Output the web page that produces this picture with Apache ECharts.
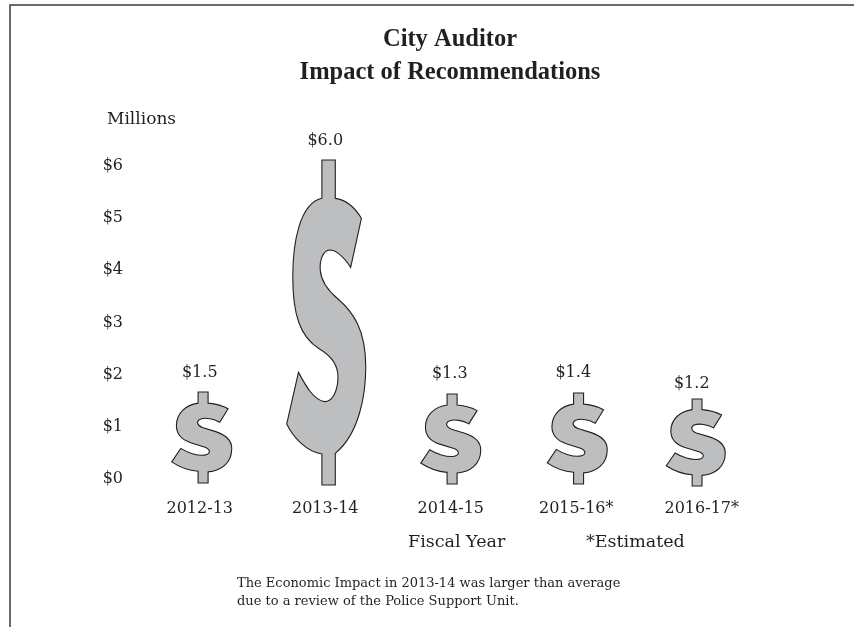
<!DOCTYPE html>
<html>
<head>
<meta charset="utf-8">
<style>html,body{margin:0;padding:0;background:#fff}#c{width:854px;height:627px}</style>
<script src="https://cdn.jsdelivr.net/npm/echarts@6/dist/echarts.min.js"></script>
</head>
<body>
<div id="c"></div>
<script>
const categories = ['2012-13', '2013-14', '2014-15', '2015-16*', '2016-17*'];
const impactMillions = [1.5, 6.0, 1.3, 1.4, 1.2];
const yTickLabels = ['$0', '$1', '$2', '$3', '$4', '$5', '$6'];

const INK = '#231f20';
const SERIF = '"DejaVu Serif", serif';
const TITLE_FONT = '"Liberation Serif", serif';

const TALL = 'M157 30L197 30L197 145C235 150 260 180 275 205L243 352C225 325 205 300 180 300C160 302 150 330 152 360C155 400 185 430 205 447C250 485 288 540 288 650C288 730 270 850 197 910L197 1005L157 1005L157 912C110 905 70 860 52 822L87 667C105 700 130 750 165 755C190 755 205 720 205 680C205 640 180 615 150 597C90 560 70 490 70 380C70 280 90 160 157 145Z';
const WIDE = 'M142 132L172 132L172 165C195 167 215 172 232 182L207 222C190 212 165 207 148 213C135 220 140 232 155 238L195 250C225 260 243 275 243 300C243 345 210 367 172 370L172 403L142 403L142 368C115 366 85 355 63 340L90 300C110 313 140 322 160 320C178 318 182 305 165 297L120 283C95 275 77 258 77 232C77 195 105 170 142 165Z';

// per-mark presentation (the source graphic does not sit its symbols on the axis baseline)
const markStyle = [
  { shape: WIDE, size: [60, 91], dx: 2, dy: 4, labelDx: 0, labelDy: -28 },
  { shape: TALL, size: [79, 325], dx: 1, dy: 6, labelDx: 0, labelDy: -25 },
  { shape: WIDE, size: [60, 90], dx: 0, dy: 5, labelDx: -1, labelDy: -37 },
  { shape: WIDE, size: [60, 91], dx: 1, dy: 5, labelDx: -3, labelDy: -33 },
  { shape: WIDE, size: [59, 87], dx: -6, dy: 7, labelDx: -10, labelDy: -33 }
];

const chart = echarts.init(document.getElementById('c'), null, { renderer: 'canvas' });
chart.setOption({
  animation: false,
  backgroundColor: '#ffffff',
  title: {
    text: 'City Auditor\nImpact of Recommendations',
    left: 445,
    top: 18,
    textAlign: 'center',
    textStyle: { fontFamily: TITLE_FONT, fontWeight: 'bold', fontSize: 24.5, lineHeight: 33, color: INK }
  },
  grid: { left: 137, top: 166, width: 627.5, height: 313 },
  xAxis: {
    type: 'category',
    data: categories,
    axisLine: { show: false },
    axisTick: { show: false },
    axisLabel: { color: INK, fontFamily: SERIF, fontSize: 16, margin: 22 }
  },
  yAxis: {
    type: 'value',
    min: 0,
    max: 6,
    interval: 1,
    axisLine: { show: false },
    axisTick: { show: false },
    splitLine: { show: false },
    axisLabel: {
      color: INK, fontFamily: SERIF, fontSize: 16, margin: 14,
      formatter: (v) => yTickLabels[v]
    }
  },
  series: [{
    type: 'custom',
    coordinateSystem: 'cartesian2d',
    clip: false,
    encode: { x: 0, y: 1 },
    data: impactMillions.map((v, i) => [i, v]),
    renderItem: (params, api) => {
      const i = params.dataIndex;
      const m = markStyle[i];
      const value = api.value(1);
      const base = api.coord([i, 0]);
      const top = api.coord([i, value]);
      return {
        type: 'group',
        children: [
          {
            type: 'path',
            shape: {
              pathData: m.shape,
              x: base[0] + m.dx - m.size[0] / 2,
              y: base[1] + m.dy - m.size[1],
              width: m.size[0],
              height: m.size[1],
              layout: 'cover'
            },
            style: { fill: '#bcbec0', stroke: INK, lineWidth: 1.1 }
          },
          {
            type: 'text',
            style: {
              x: top[0] + m.labelDx,
              y: top[1] + m.labelDy,
              text: '$' + value.toFixed(1),
              fill: INK,
              font: '16px ' + SERIF,
              align: 'center',
              verticalAlign: 'middle'
            }
          }
        ]
      };
    }
  }],
  graphic: [
    { type: 'polyline', silent: true, shape: { points: [[10, 627], [10, 5], [854, 5]] },
      style: { stroke: '#3a3a3c', lineWidth: 1.5, fill: null } },
    { type: 'text', left: 107, top: 111, style: { text: 'Millions', fill: INK, font: '17px ' + SERIF } },
    { type: 'text', left: 408, top: 533, style: { text: 'Fiscal Year', fill: INK, font: '17.5px ' + SERIF } },
    { type: 'text', left: 586, top: 533, style: { text: '*Estimated', fill: INK, font: '17.5px ' + SERIF } },
    { type: 'text', left: 237, top: 575, style: {
        text: 'The Economic Impact in 2013-14 was larger than average\ndue to a review of the Police Support Unit.',
        fill: INK, font: '13px ' + SERIF, lineHeight: 18 } }
  ]
});
</script>
</body>
</html>
